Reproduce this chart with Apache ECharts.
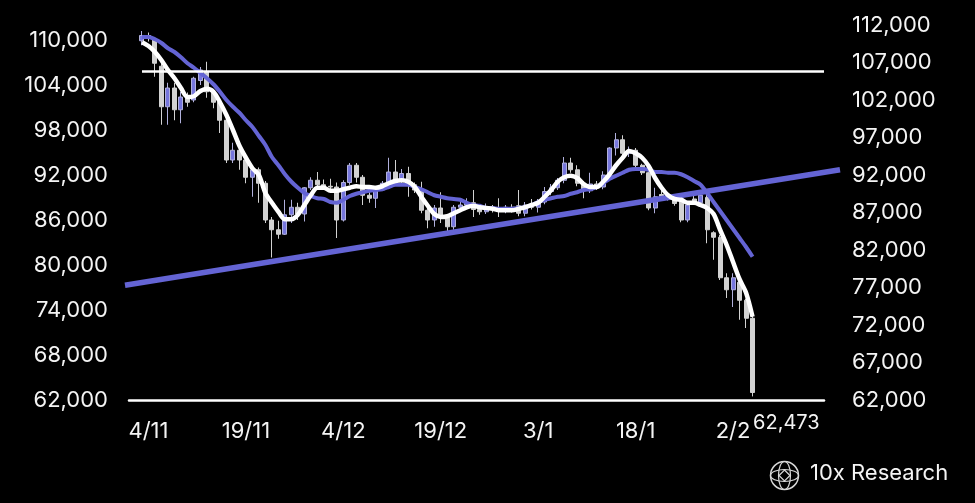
<!DOCTYPE html>
<html><head><meta charset="utf-8">
<script src="https://cdn.jsdelivr.net/npm/echarts@6.0.0/dist/echarts.min.js"></script>
<style>html,body{margin:0;padding:0;background:#000;}#chart{width:975px;height:503px;}</style>
</head><body><div id="chart"></div>
<script>
// ---- data ----
const dates = ['3/11','4/11','5/11','6/11','7/11','8/11','9/11','10/11','11/11','12/11','13/11','14/11','15/11','16/11','17/11','18/11','19/11','20/11','21/11','22/11','23/11','24/11','25/11','26/11','27/11','28/11','29/11','30/11',
'1/12','2/12','3/12','4/12','5/12','6/12','7/12','8/12','9/12','10/12','11/12','12/12','13/12','14/12','15/12','16/12','17/12','18/12','19/12','20/12','21/12','22/12','23/12','24/12','25/12','26/12','27/12','28/12','29/12','30/12','31/12',
'1/1','2/1','3/1','4/1','5/1','6/1','7/1','8/1','9/1','10/1','11/1','12/1','13/1','14/1','15/1','16/1','17/1','18/1','19/1','20/1','21/1','22/1','23/1','24/1','25/1','26/1','27/1','28/1','29/1','30/1','31/1',
'1/2','2/2','3/2','4/2','5/2'];

const open = [109900,110600,110200,106500,101100,103600,100700,102400,102000,104600,
105800,103000,101700,99300,94000,95300,94000,91700,92700,90900,
86000,84700,84100,86700,87700,86800,90300,91300,90700,90500,
90400,86000,91000,93300,91700,89300,88900,90000,90900,92400,
91300,92200,90700,90000,87300,86000,87600,86300,85100,87700,
88000,88300,87400,87100,87500,87400,87200,87700,87900,86900,
88000,87700,88400,89800,90300,91300,93600,92700,90900,89900,
90800,90400,92000,95600,96700,94900,95300,93300,92300,87600,
89400,89200,88900,88600,86000,88800,88300,89000,84300,83700,
78300,76700,77700,75300,72900];

const close = [110600,110200,106900,101100,103600,100700,102400,101700,104900,106000,
103100,101700,99300,94000,95300,94000,91700,92700,90900,86000,
84700,84100,86700,87700,86800,90300,91300,90700,90500,90400,
86000,91000,93300,91700,89300,88900,90000,90900,92400,91300,
92200,90700,90000,87300,86000,87600,86300,85100,87700,88000,
88300,87400,87100,87500,87400,87200,87700,87300,86900,88000,
87700,88400,89800,90300,91300,93600,92700,90900,89900,90800,
90400,92000,95600,96700,94900,95300,93300,92300,87600,89100,
88900,88900,88200,86000,88000,88300,89300,84700,83700,78300,
76700,78300,75300,72900,63000];

const low = [109300,109800,105100,98700,98700,99300,98900,101100,101700,104000,
102300,100900,97600,93600,93600,92700,90900,89100,88300,85600,
81000,83500,84000,85600,86000,85800,90000,90400,90100,89900,
83600,85800,90700,91000,88000,88300,87600,89900,90400,91000,
90900,89100,89600,86900,84900,85100,85600,84500,84700,87400,
87800,86400,86700,86800,87000,86400,86900,87000,86500,86500,
87400,87000,88100,89300,90000,90900,92300,90500,88900,89600,
90000,90100,91300,94600,94500,94400,93000,92000,87300,86900,
88700,88600,87900,85700,85700,88000,88000,82900,80700,78000,
75600,74400,72700,71600,62473];

const high = [111200,111000,110400,106900,104300,104300,103100,103000,105100,106400,
107100,103300,101900,99600,96300,95700,94300,93100,93000,91200,
86400,85900,88700,88700,88300,90400,91700,92400,91400,91500,
91000,91300,93600,93600,92000,89700,90300,91200,94300,94000,
92800,93100,91000,91100,88300,88000,89700,86700,88000,88500,
88900,90000,88000,88200,88000,88900,88000,88100,90000,88400,
88800,88800,90400,90800,91600,94400,94300,93300,91200,92300,
91200,92500,95700,97600,97300,95800,95600,93500,92700,90300,
90400,89500,89300,89000,88300,89300,89800,89400,84500,84000,
78900,78900,78000,75500,73300];

const maFast = [109700,109200,108400,107300,106000,104900,103600,102400,102500,103200,
103500,103100,101700,100000,98000,95900,94300,92900,92000,89600,
88300,87100,86100,86100,86700,88000,89300,90300,90300,89900,
89900,90100,90300,90500,90400,90400,90300,90500,90900,91200,
91300,91100,90400,89100,87900,86800,86400,86500,86900,87300,
87700,87900,87700,87600,87500,87300,87300,87300,87500,87700,
88000,88300,89100,90000,91100,91700,91900,91600,90800,90400,
90400,91100,92100,93300,94300,95200,94900,94300,93200,91600,
90300,89300,88800,88700,88300,88300,88000,87600,86800,84700,
82700,80400,78100,76300,73100];

const maSlow = [110400,110400,110100,109600,108900,108400,107700,106900,106300,105600,
104900,104100,103100,102000,101100,100300,99300,98400,97200,96000,
94400,93300,92100,91100,90300,89600,89200,88900,88800,88400,
88300,88700,89200,89500,89700,89900,90000,90100,90400,90700,
90700,90700,90400,90100,89700,89300,89100,88900,88800,88700,
88300,88000,87900,87600,87600,87500,87500,87500,87600,87700,
88000,88400,88700,88900,89100,89200,89500,89700,90000,90100,
90400,90900,91500,91900,92300,92700,92800,92800,92700,92400,
92400,92300,92300,92100,91700,91200,90700,89600,88400,87200,
86000,84800,83600,82400,81100];

const trendLine = [77300, 92700];      // price at left and right end of the trend line
const resistance = 105800;
const lowValue = 62473;
const xTickLabels = ['4/11','19/11','4/12','19/12','3/1','18/1','2/2'];
const leftTicks = [62000,68000,74000,80000,86000,92000,98000,104000,110000];
const rightTicks = [62000,67000,72000,77000,82000,87000,92000,97000,102000,107000,112000];

// ---- layout helpers ----
const PAD_L = 2, PAD_R = 11;
const padL = Array.from({length: PAD_L}, (_, i) => '_l' + i);
const padR = Array.from({length: PAD_R}, (_, i) => '_r' + i);
const cats = padL.concat(dates, padR);
const pad = arr => Array(PAD_L).fill('-').concat(arr, Array(PAD_R).fill('-'));
const fmt = v => Number(v).toLocaleString('en-US');

const candles = dates.map((d, i) => [open[i], close[i], low[i], high[i]]);

const FONT = 'Inter';
const TXT = '#f4f4f4';
const BLUE = '#6464d4';

const chart = echarts.init(document.getElementById('chart'), null, {renderer: 'canvas'});
chart.setOption({
  backgroundColor: '#000',
  animation: false,
  grid: [
    {left: 129, right: 151, top: 25, bottom: 103},
    {left: 125, right: 135, top: 25, bottom: 103}
  ],
  xAxis: [
    {
      type: 'category', gridIndex: 0, data: cats, boundaryGap: false,
      axisLine: {show: true, lineStyle: {color: '#fff', width: 2.5}},
      axisTick: {show: false}, splitLine: {show: false},
      axisLabel: {
        interval: (idx, val) => xTickLabels.includes(val),
        color: TXT, fontFamily: FONT, fontSize: 22, margin: 20
      }
    },
    {type: 'value', gridIndex: 1, min: 0, max: 1, show: false}
  ],
  yAxis: [
    {
      type: 'value', gridIndex: 0, position: 'left', min: 62000, max: 112000, interval: 6000,
      axisLine: {show: false}, axisTick: {show: false}, splitLine: {show: false},
      axisLabel: {color: TXT, fontFamily: FONT, fontSize: 22, margin: 21,
        formatter: v => leftTicks.includes(v) ? fmt(v) : ''}
    },
    {
      type: 'value', gridIndex: 0, position: 'right', min: 62000, max: 112000, interval: 5000,
      axisLine: {show: false}, axisTick: {show: false}, splitLine: {show: false},
      axisLabel: {color: TXT, fontFamily: FONT, fontSize: 22, margin: 28,
        formatter: v => rightTicks.includes(v) ? fmt(v) : ''}
    },
    {type: 'value', gridIndex: 1, min: 62000, max: 112000, show: false}
  ],
  series: [
    {
      type: 'candlestick', xAxisIndex: 0, yAxisIndex: 0, barWidth: 4.5,
      data: pad(candles),
      itemStyle: {color: '#7676dc', borderColor: '#b0b0dc', color0: '#d2d2d2', borderColor0: '#d2d2d2', borderWidth: 1},
      markLine: {
        silent: true, symbol: 'none', label: {show: false},
        lineStyle: {color: '#ffffff', width: 2.5, type: 'solid'},
        data: [[{coord: [PAD_L, resistance]}, {coord: [cats.length - 1, resistance]}]]
      },
      markPoint: {
        silent: true, symbol: 'circle', symbolSize: 1,
        itemStyle: {color: 'rgba(0,0,0,0)'},
        label: {show: true, position: 'right', distance: 0, offset: [0, 27],
          color: TXT, fontFamily: FONT, fontSize: 20, formatter: () => fmt(lowValue)},
        data: [{coord: [PAD_L + dates.length - 1, lowValue], value: lowValue}]
      },
      z: 2
    },
    {
      type: 'line', xAxisIndex: 1, yAxisIndex: 2, data: [[0, trendLine[0]], [1, trendLine[1]]],
      symbol: 'none', lineStyle: {color: BLUE, width: 5.5}, z: 3, silent: true
    },
    {
      type: 'line', xAxisIndex: 0, yAxisIndex: 0, data: pad(maSlow), smooth: 0.3,
      symbol: 'none', lineStyle: {color: BLUE, width: 4}, z: 4, silent: true
    },
    {
      type: 'line', xAxisIndex: 0, yAxisIndex: 0, data: pad(maFast), smooth: 0.3,
      symbol: 'none', lineStyle: {color: '#ffffff', width: 4.5}, z: 5, silent: true
    }
  ],
  graphic: [
    {
      type: 'group', left: 768, top: 459,
      children: [
        {type: 'circle', shape: {cx: 14.5, cy: 14.5, r: 14}, style: {fill: 'none', stroke: '#d8d8d8', lineWidth: 1.5}},
        {type: 'ellipse', shape: {cx: 14.5, cy: 14.5, rx: 6, ry: 14}, style: {fill: 'none', stroke: '#d8d8d8', lineWidth: 1.2}},
        {type: 'ellipse', shape: {cx: 14.5, cy: 14.5, rx: 14, ry: 6}, style: {fill: 'none', stroke: '#d8d8d8', lineWidth: 1.2}},
        {type: 'polygon', shape: {points: [[14.5, 9], [20, 14.5], [14.5, 20], [9, 14.5]]}, style: {fill: 'none', stroke: '#d8d8d8', lineWidth: 1.2}}
      ]
    },
    {
      type: 'text', left: 810, top: 462,
      style: {text: '10x Research', fill: TXT, font: '400 22px Inter'}
    }
  ]
});
</script>
</body></html>
